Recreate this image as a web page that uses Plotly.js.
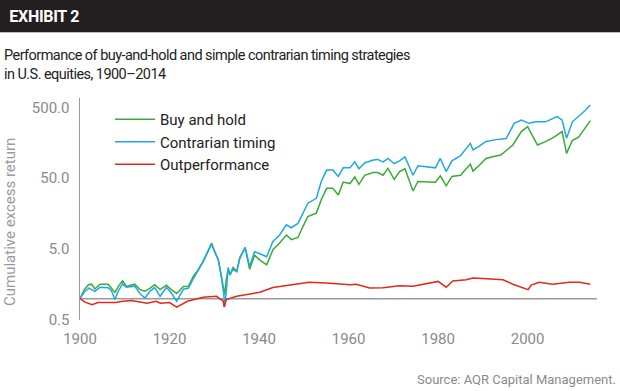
<!DOCTYPE html>
<html>
<head>
<meta charset="utf-8">
<script src="https://cdn.plot.ly/plotly-3.0.1.min.js"></script>
<style>
html,body{margin:0;padding:0;background:#fff;}
#chart{width:620px;height:391px;}
#chart .annotation[data-index="1"] text{letter-spacing:-0.55px;}
#chart .annotation[data-index="0"] text{letter-spacing:-0.3px;}
</style>
</head>
<body>
<div id="chart"></div>
<script>
// ---- data ----
const bhYears = [1900,1901,1901.9,1902.6,1903.3,1904.5,1906.3,1907,1907.8,1908.6,1909.5,1910.4,1911.5,1912.2,1913.4,1914.5,1915.6,1916.7,1917.9,1919.3,1920.4,1921.6,1923.1,1924.2,1925.3,1926.4,1927.5,1928.6,1929.4,1930.1,1930.9,1931.6,1932.1,1932.3,1932.7,1933.1,1933.5,1934.2,1935,1935.7,1936.9,1937.9,1939,1940.2,1941.7,1943.1,1944.6,1946.1,1947.2,1948.7,1949.8,1950.9,1952.8,1953.9,1955.1,1956.5,1957.7,1958.8,1960.3,1961.4,1962.3,1963.6,1965.5,1966.5,1967.7,1968.8,1970.2,1971.4,1972.6,1974.4,1975.5,1977.5,1979.4,1980.5,1981.8,1983.1,1985,1987.2,1987.8,1989.2,1990.7,1992.2,1994,1996.7,1998.6,2000,2001.1,2002.2,2004,2005.9,2007.7,2008.7,2010,2011.4,2012.8,2014];
const bhValues = [1.0,1.35,1.57,1.6,1.37,1.6,1.6,1.41,1.22,1.5,1.79,1.49,1.57,1.6,1.34,1.27,1.4,1.57,1.34,1.55,1.34,1.18,1.49,1.49,2.06,2.56,3.35,4.64,6.1,4.6,3.54,2.06,1.34,1.14,1.9,2.56,2.15,2.75,2.4,3.8,5.2,2.6,4.1,3.5,3.0,4.9,6.1,7.9,6.8,7.3,10.4,14.4,16.1,24.8,36,36,29,44,42,52,41,55,60,60,55,69,48,62,68,33,45,45,44,54,39,53,55,79,63,76,95,100,106,147,227,267,195,147,164,190,227,112,171,190,252,325];

const ctYears = [1900,1901,1902,1903.3,1904.5,1906.3,1907,1907.8,1908.6,1909.5,1910.4,1912.2,1913.4,1914.5,1915.6,1916.7,1917.9,1919.3,1920.4,1921.6,1923.1,1924.2,1925.3,1926.4,1927.5,1928.6,1929.4,1930.1,1930.9,1931.6,1932.1,1932.3,1932.7,1933.1,1933.5,1934.2,1935,1935.7,1936.9,1937.9,1939,1940.2,1941.7,1943.1,1944.6,1946.1,1947.2,1948.7,1949.8,1950.9,1952.8,1953.9,1955.1,1956.5,1957.7,1958.8,1960.3,1961.4,1962.3,1963.6,1965.5,1966.5,1967.7,1968.8,1970.2,1971.4,1972.6,1974.4,1975.5,1977.5,1979.4,1980.5,1981.8,1983.1,1985,1987.2,1987.8,1989.2,1990.7,1993,1995.2,1997,1998.6,2000.3,2001.8,2004,2006.6,2007.7,2008.7,2010,2011.4,2012.8,2014];
const ctValues = [1.0,1.25,1.41,1.27,1.45,1.43,1.3,0.97,1.3,1.6,1.45,1.5,1.18,1.02,1.27,1.43,1.08,1.45,1.2,0.92,1.36,1.4,1.9,2.5,3.3,4.6,5.9,4.6,3.5,2.0,1.2,0.78,1.3,2.75,2.2,2.6,2.4,3.7,5.3,2.85,4.6,4.3,3.9,6.4,7.9,11,10,11.5,16.1,22.2,26,45,65,65,53,70,70,85,68,82,90,92,85,95,80,88,100,55,75,72,70,95,62,88,104,155,125,142,165,175,181,297,331,297,312,312,370,331,183,312,370,447,540];

const opYears = [1900,1901,1902.7,1904,1908,1909.5,1911.5,1913.4,1915,1917,1918,1920,1921.6,1924,1926,1927.5,1930.5,1932,1932.2,1932.7,1935,1937,1940.2,1943.1,1946.8,1951.2,1955.1,1958,1960.3,1961.7,1964.7,1967.7,1971.4,1974.4,1976.7,1980,1981.8,1983.3,1986.3,1987.8,1990,1994.5,1996.7,1998.6,2000.1,2000.8,2002.6,2005.6,2009.3,2011.6,2014];
const opValues = [1.0,0.9,0.82,0.88,0.88,0.92,0.94,0.9,0.86,0.92,0.86,0.88,0.76,0.92,1.0,1.05,1.08,0.92,0.76,0.97,1.08,1.14,1.23,1.44,1.57,1.7,1.66,1.6,1.57,1.6,1.41,1.43,1.52,1.5,1.6,1.75,1.45,1.78,1.85,1.95,1.93,1.85,1.6,1.45,1.34,1.55,1.7,1.6,1.7,1.7,1.6];

const seriesNames = ["Buy and hold","Contrarian timing","Outperformance"];
const xTickVals = [1900,1920,1940,1960,1980,2000];
const yTickVals = [0.5,5,50,500];
const yTickText = ["0.5","5.0","50.0","500.0"];

// ---- layout helpers ----
const W = 620, H = 391;
const M = {l:80, r:23, t:98, b:71};
const PW = W - M.l - M.r, PH = H - M.t - M.b;
const px2x = p => (p - M.l) / PW;
const py2y = p => (H - M.b - p) / PH;
const yRange = [Math.log10(0.5), 2.83];
const baselinePaper = (0 - yRange[0]) / (yRange[1] - yRange[0]);

const FONT = "Roboto, 'Liberation Sans', Arial, sans-serif";

const traces = [
  {x: bhYears, y: bhValues, name: seriesNames[0], type: "scatter", mode: "lines", line: {color: "#3aaa35", width: 1.5}},
  {x: ctYears, y: ctValues, name: seriesNames[1], type: "scatter", mode: "lines", line: {color: "#1fa8e0", width: 1.5}},
  {x: opYears, y: opValues, name: seriesNames[2], type: "scatter", mode: "lines", line: {color: "#e2281c", width: 1.5}}
];

const layout = {
  width: W, height: H,
  margin: M,
  paper_bgcolor: "#fff", plot_bgcolor: "#fff",
  showlegend: true,
  legend: {x: px2x(110), y: py2y(103), xanchor: "left", yanchor: "top",
           font: {family: FONT, size: 15, color: "#222"}, bgcolor: "rgba(0,0,0,0)",
           itemwidth: 40, tracegroupgap: 0},
  xaxis: {range: [1900, 2015.5], tickvals: xTickVals, ticktext: xTickVals.map(String),
          showgrid: false, zeroline: false, showline: false, ticks: "", ticklabelstandoff: 8,
          tickfont: {family: FONT, size: 15, color: "#8a8a8a"}},
  yaxis: {type: "log", range: yRange, tickvals: yTickVals, ticktext: yTickText,
          showgrid: false, zeroline: false, showline: true, linecolor: "#999", linewidth: 1.5,
          ticks: "", ticklabelstandoff: 6,
          tickfont: {family: FONT, size: 15, color: "#8a8a8a"}},
  shapes: [
    {type: "rect", xref: "paper", yref: "paper", x0: px2x(0), x1: px2x(620), y0: py2y(32), y1: py2y(0),
     fillcolor: "#231f20", line: {width: 0}, layer: "below"},
    {type: "line", xref: "paper", yref: "paper", x0: px2x(0), x1: px2x(620), y0: py2y(32.5), y1: py2y(32.5),
     line: {color: "#bbb", width: 1}},
    {type: "line", xref: "paper", yref: "paper", x0: 0, x1: 1, y0: baselinePaper, y1: baselinePaper,
     line: {color: "#999", width: 1.5}, layer: "below"}
  ],
  annotations: [
    {xref: "paper", yref: "paper", x: px2x(6), y: py2y(17), xanchor: "left", yanchor: "middle", showarrow: false,
     text: "<b>EXHIBIT 2</b>", font: {family: FONT, size: 16, color: "#fff", weight: 900}},
    {xref: "paper", yref: "paper", x: px2x(2), y: py2y(45), xanchor: "left", yanchor: "top", showarrow: false, align: "left",
     text: "Performance of buy-and-hold and simple contrarian timing strategies<br>in U.S. equities, 1900–2014",
     font: {family: FONT, size: 14.5, color: "#222"}},
    {xref: "paper", yref: "paper", x: px2x(10), y: py2y(222), xanchor: "center", yanchor: "middle", showarrow: false,
     textangle: -90, text: "Cumulative excess return", font: {family: FONT, size: 15, color: "#9a9a9a"}},
    {xref: "paper", yref: "paper", x: px2x(618), y: py2y(379), xanchor: "right", yanchor: "middle", showarrow: false,
     text: "Source: AQR Capital Management.", font: {family: FONT, size: 13, color: "#8a8a8a"}}
  ]
};

Plotly.newPlot("chart", traces, layout, {displayModeBar: false, staticPlot: true});
</script>
</body>
</html>
